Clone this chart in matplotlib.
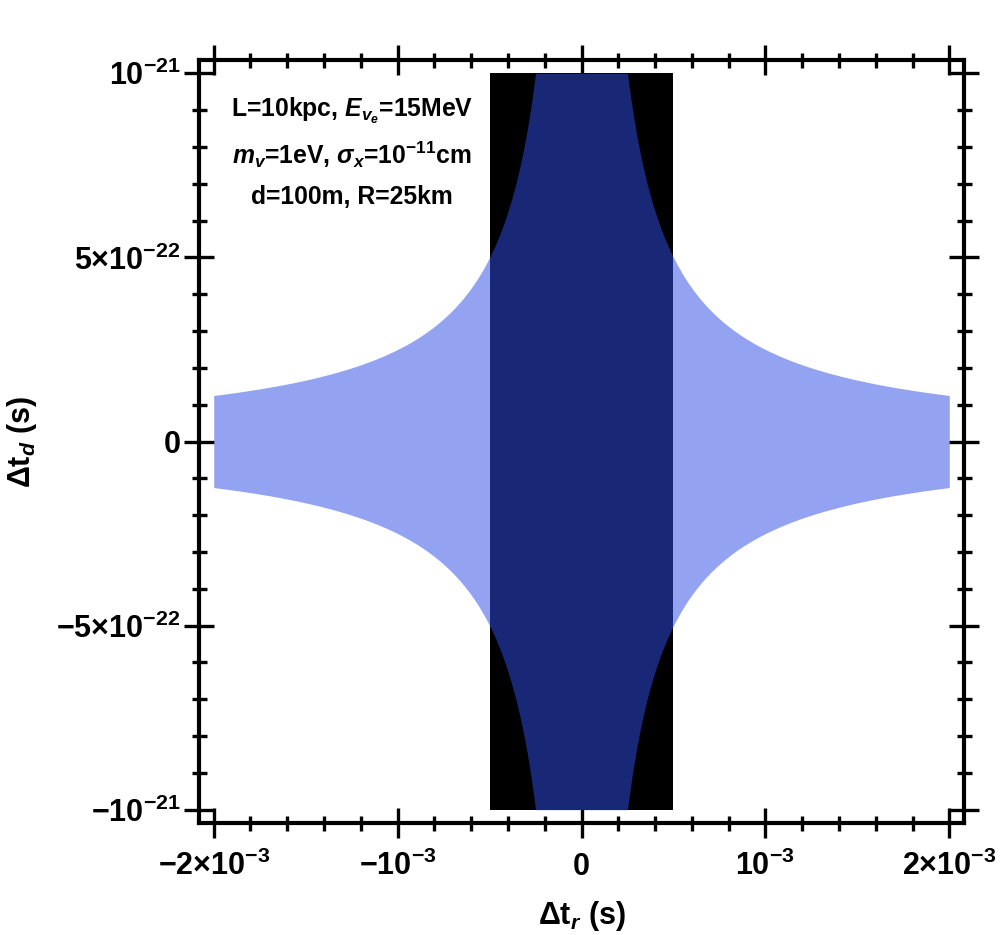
import matplotlib
matplotlib.use("Agg")
import matplotlib.pyplot as plt
import numpy as np
from matplotlib.ticker import MultipleLocator

plt.rcParams['font.family'] = ['Liberation Sans', 'DejaVu Sans']
plt.rcParams['font.weight'] = 'bold'
plt.rcParams['axes.labelweight'] = 'bold'
plt.rcParams['mathtext.fontset'] = 'custom'
plt.rcParams['mathtext.rm'] = 'Liberation Sans:bold'
plt.rcParams['mathtext.bf'] = 'Liberation Sans:bold'
plt.rcParams['mathtext.sf'] = 'Liberation Sans:bold'
plt.rcParams['mathtext.it'] = 'Liberation Sans:bold:italic'

# blue region: |dt_r * dt_d| <= product_bound, |dt_r| <= 2e-3, |dt_d| <= 1e-21
tr_range = [-2e-3, 2e-3]
td_max = 1e-21
product_bound = 2.5e-25

# black box
box_tr = [-0.5e-3, 0.5e-3]
box_td = [-1e-21, 1e-21]

xticks = [-2e-3, -1e-3, 0, 1e-3, 2e-3]
xlabels = ['\u22122×10$^{-3}$', '\u221210$^{-3}$', '0', '10$^{-3}$', '2×10$^{-3}$']
yticks = [-1e-21, -5e-22, 0, 5e-22, 1e-21]
ylabels = ['\u221210$^{-21}$', '\u22125×10$^{-22}$', '0', '5×10$^{-22}$', '10$^{-21}$']

info_lines = [r'L=10kpc, $E_{v_e}$=15MeV',
              r'$m_v$=1eV, $\sigma_x$=10$^{-11}$cm',
              'd=100m, R=25km']

fig = plt.figure(figsize=(10, 9.35), dpi=100)
ax = fig.add_axes([0.199, 0.1198, 0.765, 0.8160])

ax.fill_between(box_tr, box_td[0], box_td[1], color='black', lw=0, zorder=1)

x = np.linspace(tr_range[0], tr_range[1], 4001)
with np.errstate(divide='ignore'):
    y = np.minimum(td_max, product_bound / np.abs(x))
ax.fill_between(x, -y, y, color=(0.19, 0.30, 0.90), alpha=0.52, lw=0, zorder=2)

ax.set_xlim(-2.08e-3, 2.08e-3)
ax.set_ylim(-1.036e-21, 1.036e-21)

ax.set_xticks(xticks, xlabels)
ax.set_yticks(yticks, ylabels)
ax.xaxis.set_minor_locator(MultipleLocator(0.2e-3))
ax.yaxis.set_minor_locator(MultipleLocator(0.1e-21))

ax.tick_params(which='major', direction='inout', length=21.6, width=2.4,
               top=True, right=True, labelsize=22)
ax.tick_params(axis='y', which='major', pad=2.5)
ax.tick_params(axis='x', which='major', pad=26.5)
ax.tick_params(which='minor', direction='inout', length=10.8, width=2.4,
               top=True, right=True)
# line up x tick labels on their baselines, like the original
for t in ax.xaxis.get_major_ticks():
    t.label1.set_verticalalignment('baseline')
for s in ax.spines.values():
    s.set_linewidth(3)
    s.set_zorder(5)

ax.set_xlabel('Δt$_r$ (s)', fontsize=22)
ax.set_ylabel('Δt$_d$ (s)', fontsize=22)
ax.xaxis.set_label_coords(0.5, -0.099)
ax.yaxis.set_label_coords(-0.231, 0.5)
ax.xaxis.label.set_va('top')
ax.yaxis.label.set_va('center')

for i, line in enumerate(info_lines):
    ax.text(0.200, 0.933 - i * 0.0565, line, transform=ax.transAxes,
            ha='center', va='center', fontsize=17.8)

fig.savefig('out.png', dpi=100)
